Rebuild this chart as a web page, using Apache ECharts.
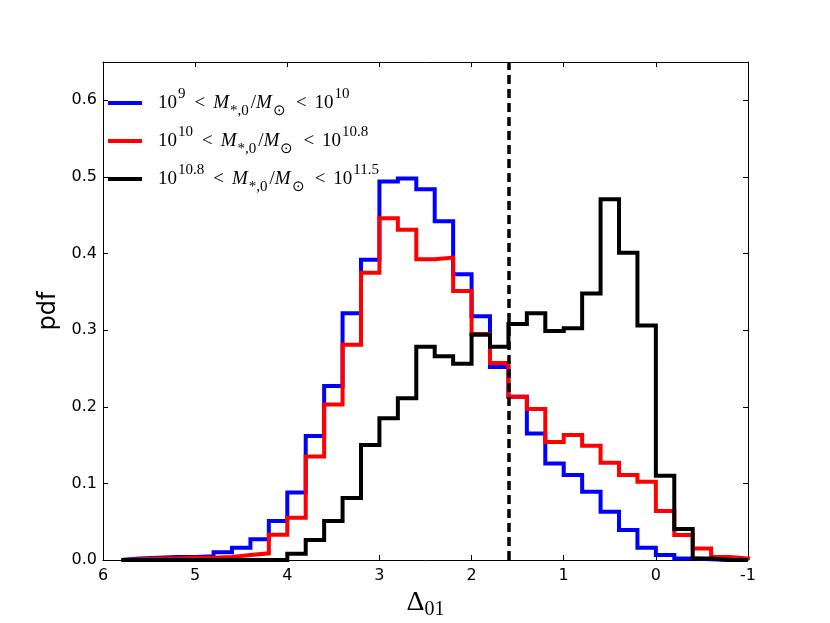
<!DOCTYPE html>
<html>
<head>
<meta charset="utf-8">
<script src="https://cdn.jsdelivr.net/npm/echarts@6/dist/echarts.min.js"></script>
<style>
  html, body { margin: 0; padding: 0; background: #fff; }
  #chart { width: 830px; height: 623px; }
</style>
</head>
<body>
<div id="chart"></div>
<script>
// bin edges of the histograms (Delta_01), left to right on the inverted axis
var binEdges = [5.8, 5.6, 5.4, 5.2, 5.0, 4.8, 4.6, 4.4, 4.2, 4.0,
                3.8, 3.6, 3.4, 3.2, 3.0, 2.8, 2.6, 2.4, 2.2, 2.0,
                1.8, 1.6, 1.4, 1.2, 1.0, 0.8, 0.6, 0.4, 0.2, 0.0,
                -0.2, -0.4, -0.6, -0.8, -1.0];

// pdf per bin
var pdfLow = [0.002, 0.003, 0.004, 0.004, 0.005, 0.010, 0.016, 0.027, 0.051, 0.088,
              0.162, 0.227, 0.322, 0.392, 0.494, 0.498, 0.484, 0.442, 0.373, 0.318,
              0.252, 0.213, 0.165, 0.126, 0.111, 0.089, 0.063, 0.039, 0.016, 0.0065,
              0.002, 0.001, 0.0, 0.0];
var pdfMid = [0.001, 0.002, 0.002, 0.003, 0.003, 0.004, 0.0065, 0.0087, 0.033, 0.055,
              0.135, 0.203, 0.281, 0.375, 0.446, 0.431, 0.3925, 0.3947, 0.351, 0.295,
              0.257, 0.213, 0.197, 0.154, 0.163, 0.149, 0.127, 0.111, 0.102, 0.064,
              0.0326, 0.015, 0.004, 0.002];
var pdfHigh = [0, 0, 0, 0, 0, 0, 0, 0, 0, 0.008,
               0.026, 0.051, 0.081, 0.150, 0.185, 0.211, 0.2785, 0.266, 0.256, 0.294,
               0.2785, 0.308, 0.322, 0.299, 0.3025, 0.348, 0.471, 0.401, 0.306, 0.110,
               0.0405, 0.002, 0, 0];

var cutValue = 1.6;
var xTicks = [6, 5, 4, 3, 2, 1, 0, -1];
var yTicks = [0.0, 0.1, 0.2, 0.3, 0.4, 0.5, 0.6];

var legendText = {
    low: '{n|10}{sup|9}{r|<}{i|M}{sub|*,0}{n|/}{i|M}{sub|⊙}{r|<}{n|10}{sup|10}',
    mid: '{n|10}{sup|10}{r|<}{i|M}{sub|*,0}{n|/}{i|M}{sub|⊙}{r|<}{n|10}{sup|10.8}',
    high: '{n|10}{sup|10.8}{r|<}{i|M}{sub|*,0}{n|/}{i|M}{sub|⊙}{r|<}{n|10}{sup|11.5}'
};

// turn per-bin values into a step outline
function stepData(values) {
    var pts = [[binEdges[0], 0]];
    for (var i = 0; i < values.length; i++) {
        pts.push([binEdges[i], values[i]]);
        pts.push([binEdges[i + 1], values[i]]);
    }
    pts.push([binEdges[values.length], 0]);
    return pts;
}

function histSeries(name, color, values, z) {
    return {
        name: name,
        type: 'line',
        data: stepData(values),
        symbol: 'none',
        color: color,
        lineStyle: { color: color, width: 4, join: 'miter' },
        z: z,
        animation: false
    };
}

var serif = 'Liberation Serif';
var sans = 'DejaVu Sans';

var myChart = echarts.init(document.getElementById('chart'));

var frameAxisX = {
    type: 'value', min: -1, max: 6, interval: 1, inverse: true,
    axisLine: { onZero: false, lineStyle: { color: '#000', width: 1 } },
    axisTick: { inside: true, length: 5, lineStyle: { color: '#000' } },
    splitLine: { show: false }
};
var frameAxisY = {
    type: 'value', min: 0, max: 0.65, interval: 0.1,
    axisLine: { show: true, onZero: false, lineStyle: { color: '#000', width: 1 } },
    axisTick: { show: true, inside: true, length: 5, lineStyle: { color: '#000' } },
    splitLine: { show: false }
};

var legendRich = {
    n: { fontSize: 19, fontFamily: serif, color: '#000', lineHeight: 32, verticalAlign: 'middle' },
    i: { fontSize: 19, fontFamily: serif, fontStyle: 'italic', color: '#000', lineHeight: 32, verticalAlign: 'middle' },
    r: { fontSize: 19, fontFamily: serif, color: '#000', lineHeight: 32, verticalAlign: 'middle', padding: [0, 8, 0, 8] },
    sup: { fontSize: 15, fontFamily: serif, color: '#000', lineHeight: 16, verticalAlign: 'top', padding: [0, 1, 0, 1] },
    sub: { fontSize: 15, fontFamily: serif, color: '#000', lineHeight: 16, verticalAlign: 'bottom', padding: [0, 2, 0, 1] }
};

myChart.setOption({
    backgroundColor: '#fff',
    animation: false,
    grid: { left: 103, right: 82, top: 62, bottom: 63, outerBoundsMode: 'none' },
    legend: {
        orient: 'vertical',
        left: 103,
        top: 82,
        itemWidth: 34,
        itemHeight: 4,
        itemGap: 6,
        icon: 'rect',
        data: ['low', 'mid', 'high'],
        formatter: function (name) { return legendText[name]; },
        textStyle: {
            padding: [0, 0, 0, 11],
            rich: legendRich
        }
    },
    xAxis: [
        Object.assign({}, frameAxisX, {
            position: 'bottom',
            name: '{d|Δ}{s|01}',
            nameLocation: 'middle',
            nameGap: 23,
            nameTextStyle: {
                rich: {
                    d: { fontSize: 28, fontFamily: serif, color: '#000', lineHeight: 34, verticalAlign: 'middle' },
                    s: { fontSize: 20, fontFamily: serif, color: '#000', lineHeight: 20, verticalAlign: 'bottom' }
                }
            },
            axisLabel: {
                color: '#000', fontSize: 16, fontFamily: sans, margin: 8,
                formatter: function (v) { return xTicks.indexOf(v) >= 0 ? String(v) : ''; }
            }
        }),
        Object.assign({}, frameAxisX, {
            position: 'top',
            axisLabel: { show: false }
        })
    ],
    yAxis: [
        Object.assign({}, frameAxisY, {
            position: 'left',
            name: 'pdf',
            nameLocation: 'middle',
            nameGap: 33,
            nameTextStyle: { fontSize: 24, fontFamily: sans, color: '#000' },
            axisLabel: {
                color: '#000', fontSize: 16, fontFamily: sans, margin: 6,
                showMaxLabel: false,
                formatter: function (v) {
                    for (var k = 0; k < yTicks.length; k++) {
                        if (Math.abs(yTicks[k] - v) < 1e-6) return yTicks[k].toFixed(1);
                    }
                    return '';
                }
            }
        }),
        Object.assign({}, frameAxisY, {
            position: 'right',
            axisLabel: { show: false }
        })
    ],
    series: [
        histSeries('low', '#0000ff', pdfLow, 2),
        histSeries('mid', '#ff0000', pdfMid, 3),
        Object.assign(histSeries('high', '#000000', pdfHigh, 4), {
            markLine: {
                silent: true,
                symbol: 'none',
                label: { show: false },
                lineStyle: { color: '#000', width: 3.5, type: [9, 5] },
                data: [{ xAxis: cutValue }]
            }
        })
    ]
});
</script>
</body>
</html>
